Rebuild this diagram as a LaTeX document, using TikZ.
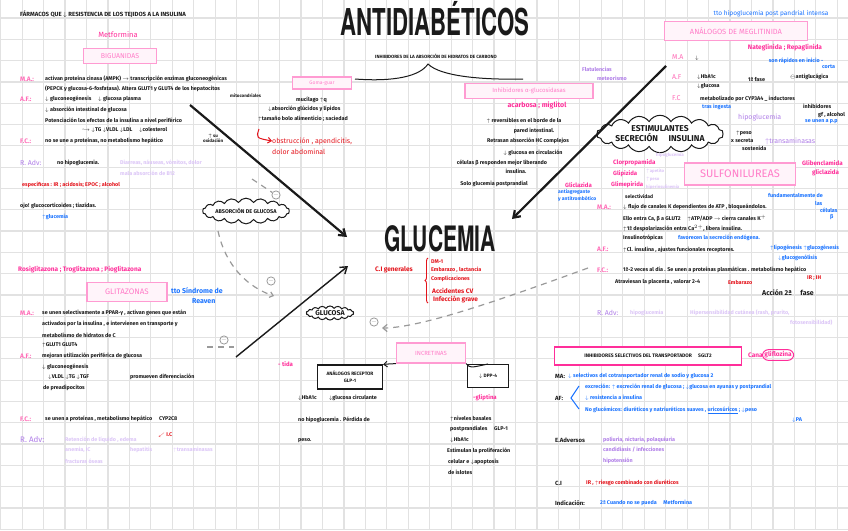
\documentclass[tikz,border=0pt]{standalone}
\usepackage{fontspec}
\setmainfont{Fira Sans}
\newfontfamily\condfont[FakeStretch=0.6]{TeX Gyre Heros}
\usetikzlibrary{arrows.meta, positioning, calc, shapes.symbols, decorations.pathreplacing}
\definecolor{ink}{HTML}{1A1A1A}
\definecolor{hotpink}{HTML}{FF2E9A}
\definecolor{boxpink}{HTML}{FF9BD2}
\definecolor{pinkfill}{HTML}{FFF4FA}
\definecolor{boxtext}{HTML}{FF7CC8}
\definecolor{skyblue}{HTML}{1A73FF}
\definecolor{redd}{HTML}{E4141C}
\definecolor{lilac}{HTML}{B07EE8}
\definecolor{palelilac}{HTML}{DCC6F7}
\definecolor{dashgray}{HTML}{9A9A9A}
\definecolor{gridgray}{HTML}{E2E2E2}
\newcommand{\upar}{$\uparrow$}
\newcommand{\dnar}{$\downarrow$}
\newcommand{\rarr}{$\rightarrow$}

\begin{document}
\begin{tikzpicture}[x=1pt, y=-1pt,
  >={Straight Barb[length=2.2mm, width=3mm]},
  txt/.style={anchor=west, inner sep=0pt, font=\fontsize{5.4}{6.5}\selectfont\bfseries, text=ink},
  pk/.style={txt, text=hotpink},
  bl/.style={txt, text=skyblue},
  rd/.style={txt, text=redd},
  pu/.style={txt, text=lilac},
  pl/.style={txt, text=palelilac},
  lbl/.style={txt, text=hotpink!70, font=\fontsize{6.5}{7}\selectfont\bfseries},
  pbox/.style={draw=boxpink, line width=1.2pt, fill=pinkfill, text=boxtext,
    inner sep=1pt, font=\fontsize{7}{8}\selectfont},
  kbox/.style={draw=ink, line width=1.1pt, fill=white, text=ink, align=center,
    inner sep=1pt, font=\fontsize{4.8}{7}\selectfont\bfseries},
  blob/.style={cloud, draw=ink, line width=1pt, fill=white, cloud puffs=18,
    cloud puff arc=120, aspect=5, inner sep=0pt, text=ink},
  minusmark/.style={circle, draw=dashgray, line width=0.8pt, inner sep=0.3pt,
    font=\fontsize{6}{6}\selectfont, text=dashgray},
  bigarr/.style={->, line width=2.2pt, ink},
  thinarr/.style={->, line width=1.4pt, ink},
  dasharr/.style={->, dash pattern=on 6pt off 5pt, line width=1.2pt, dashgray},
  redarr/.style={->, >={Straight Barb[length=1.2mm, width=2mm]}, line width=1pt, redd},
]

% Background and grid
\useasboundingbox (0,0) rectangle (848,530);
\fill[white] (0,0) rectangle (848,530);
\foreach \i in {0,...,39}
  \draw[gridgray, line width=1.2pt] ({0.7+21.45*\i},0) -- ({0.7+21.45*\i},530);
\foreach \j in {0,...,25}
  \draw[gridgray, line width=1.2pt] (0,{-3.3+21.3*\j}) -- (848,{-3.3+21.3*\j});

% Titles
\node[font=\condfont\bfseries\fontsize{37}{37}\selectfont, text=ink, inner sep=0pt] (title) at (435,19) {ANTIDIABÉTICOS};
\node[font=\condfont\bfseries\fontsize{35}{35}\selectfont, text=ink, inner sep=0pt] (gluc) at (440,239) {GLUCEMIA};

% Biguanidas
\node[txt, font=\fontsize{6}{7}\selectfont\bfseries] (hdr) at (20,14) {FÁRMACOS QUE \dnar{} RESISTENCIA DE LOS TEJIDOS A LA INSULINA};
\node[pk, anchor=center, font=\fontsize{7.5}{8}\selectfont] (metf) at (118,35) {Metformina};
\node[pbox, minimum width=73pt, minimum height=15pt] (bigu) at (120,56) {BIGUANIDAS};
\node[lbl] (bgMA) at (20,79) {M.A.:};
\node[txt] (bg1) at (45,79) {activan proteína cinasa (AMPK) \rarr{} transcripción enzimas gluconeogénicas};
\node[txt] (bg2) at (45,89) {(PEPCK y glucosa-6-fosfatasa). Altera GLUT1 y GLUT4 de los hepatocitos};
\node[txt, font=\fontsize{4.5}{5}\selectfont\bfseries] (bg2b) at (230,96) {mitocondriales};
\node[lbl] (bgAF) at (20,99) {A.F.:};
\node[txt] (bg3) at (45,99) {\dnar{} gluconeogénesis \quad \dnar{} glucosa plasma};
\node[txt] (bg4) at (45,110) {\dnar{} absorción intestinal de glucosa};
\node[txt] (bg5) at (45,121) {Potenciación los efectos de la insulina a nivel periférico};
\node[txt] (bg6) at (82,130) {$\hookrightarrow$ \dnar TG \dnar VLDL \dnar LDL \quad \dnar colesterol};
\node[txt, font=\fontsize{4.5}{5}\selectfont\bfseries, align=center] (bg6b) at (203,138) {\upar{} su\\oxidación};
\node[lbl] (bgFC) at (20,141) {F.C.:};
\node[txt] (bg7) at (45,141) {no se une a proteínas, no metabolismo hepático};
\node[pu, font=\fontsize{7}{8}\selectfont] (bgRA) at (20,163) {R. Adv:};
\node[txt] (bg8) at (57,163) {no hipoglucemia.};
\node[pl] (bg9) at (120,163) {Diarreas, náuseas, vómitos, dolor};
\node[pl] (bg10) at (120,173) {mala absorción de B12};
\node[rd] (bgCI) at (22,185) {específicas : IR ; acidosis; EPOC ; alcohol};
\node[txt] (bgOjo) at (20,206) {ojo! glucocorticoides ; tiazidas.};
\node[bl] (bgGl) at (42,217) {\upar glucemia};

% Goma guar
\node[pbox, font=\fontsize{5}{6}\selectfont, minimum width=59pt, minimum height=12pt] (goma) at (322,83) {Goma-guar};
\node[txt] (gm1) at (296,100) {mucílago \upar q};
\node[txt] (gm2) at (268,109) {\dnar absorción glúcidos y lípidos};
\node[txt] (gm3) at (258,119) {\upar tamaño bolo alimenticio ; saciedad};
\node[rd, font=\fontsize{7}{8}\selectfont] (gm4) at (272,141) {obstrucción , apendicitis,};
\node[rd, font=\fontsize{7}{8}\selectfont] (gm5) at (272,152) {dolor abdominal};
\coordinate (gmR) at (259,129);
\draw[redarr] (gmR) .. controls (256,138) .. (gm4.west);

% Inhibidores absorcion HC
\node[txt, anchor=center, font=\fontsize{4.6}{5}\selectfont\bfseries] (inhHC) at (436,56) {INHIBIDORES DE LA ABSORCIÓN DE HIDRATOS DE CARBONO};
\coordinate (brL) at (355,79);
\coordinate (brM) at (428,64);
\coordinate (brR) at (523,79);
\draw[ink, line width=1pt] (brL) .. controls (395,82) and (420,76) .. (brM) .. controls (440,76) and (480,80) .. (brR);

% Alfa glucosidasas
\node[pbox, font=\fontsize{6}{7}\selectfont, minimum width=128pt, minimum height=15pt] (alfa) at (529,91) {Inhibidores α-glucosidasas};
\node[pk, anchor=center, font=\fontsize{7}{8}\selectfont\bfseries] (acar) at (537,105) {acarbosa ; miglitol};
\node[txt, anchor=center] (al1) at (524,121) {\upar{} reversibles en el borde de la};
\node[txt, anchor=center] (al2) at (534,131) {pared intestinal.};
\node[txt, anchor=center] (al3) at (528,141) {Retrasan absorción HC complejos};
\node[txt, anchor=center] (al4) at (533,153) {\dnar{} glucosa en circulación};
\node[txt, anchor=center] (al5) at (502,163) {células β responden mejor liberando};
\node[txt, anchor=center] (al6) at (516,171) {insulina.};
\node[txt, anchor=center] (al7) at (494,184) {Solo glucemia postprandial};
\node[pu, anchor=center] (al8) at (597,69) {Flatulencias};
\node[pu, anchor=center] (al9) at (612,78) {meteorismo};

% Meglitinidas
\node[bl, anchor=center, font=\fontsize{6.5}{7}\selectfont] (megT) at (771,14) {tto hipoglucemia post pandrial intensa};
\node[pbox, font=\fontsize{7.5}{8}\selectfont, minimum width=143pt, minimum height=19pt] (megl) at (736,31) {ANÁLOGOS DE MEGLITINIDA};
\node[pk, anchor=center, font=\fontsize{6.5}{7}\selectfont\bfseries] (mg1) at (785,48) {Nateglinida ; Repaglinida};
\node[bl, anchor=center] (mg2) at (796,61) {son rápidos en inicio -};
\node[bl] (mg2b) at (822,67) {corta};
\node[lbl, font=\fontsize{7}{8}\selectfont] (mgMA) at (672,57) {M.A};
\node[txt] (mg3) at (695,58) {\dnar};
\node[lbl, font=\fontsize{7}{8}\selectfont] (mgAF) at (672,77) {A.F};
\node[txt] (mg4) at (697,77) {\dnar HbA1c};
\node[txt] (mg5) at (697,86) {\dnar glucosa};
\node[txt] (mg6) at (748,79) {1ª fase};
\node[txt] (mg7) at (790,77) {$\ominus$antiglucágica};
\node[lbl, font=\fontsize{7}{8}\selectfont] (mgFC) at (672,98) {F.C};
\node[txt] (mg8) at (700,99) {metabolizado por CYP3A4 \_ inductores};
\node[bl] (mg9) at (702,107) {tras ingesta};
\node[txt] (mg10) at (803,106) {inhibidores};
\node[txt] (mg11) at (818,115) {gf , alcohol};
\node[bl] (mg12) at (805,122) {se unen a p.p};
\node[pu, font=\fontsize{7}{8}\selectfont] (mg13) at (738,118) {hipoglucemia};
\node[txt] (mg14) at (736,133) {\upar peso};
\node[txt] (mg15) at (731,141) {x secreta};
\node[txt] (mg16) at (742,148) {sostenida};
\node[pu, font=\fontsize{7}{8}\selectfont] (mg17) at (765,141) {\upar transaminasas};

% Estimulantes secrecion insulina
\node[blob, font=\fontsize{8.5}{10}\selectfont\bfseries, align=center] (estim) at (660,134) {ESTIMULANTES\\SECRECIÓN \quad INSULINA};

% Sulfonilureas
\node[pbox, font=\fontsize{11}{12}\selectfont, minimum width=111pt, minimum height=22pt] (sulf) at (740,174) {SULFONILUREAS};
\node[pk, font=\fontsize{6.2}{7}\selectfont\bfseries] (su1) at (613,163) {Clorpropamida};
\node[pk, font=\fontsize{6}{7}\selectfont\bfseries] (su2) at (613,174) {Glipizida};
\node[pk, font=\fontsize{6}{7}\selectfont\bfseries] (su3) at (565,185) {Gliclazida};
\node[pk, font=\fontsize{6}{7}\selectfont\bfseries] (su4) at (611,185) {Glimepirida};
\node[pk, font=\fontsize{6.2}{7}\selectfont\bfseries] (su5) at (802,163) {Glibenclamida};
\node[pk, font=\fontsize{6.2}{7}\selectfont\bfseries] (su6) at (812,173) {gliclazida};
\node[pl, font=\fontsize{4.5}{5}\selectfont\bfseries] (su7) at (656,155) {hipoglucemia};
\node[pl, font=\fontsize{4.3}{5}\selectfont\bfseries] (su8) at (646,171) {\upar apetito};
\node[pl, font=\fontsize{4.3}{5}\selectfont\bfseries] (su9) at (646,179) {\upar peso};
\node[pl, font=\fontsize{4.3}{5}\selectfont\bfseries] (su10) at (646,187) {hiperinsulinemia};
\node[bl, font=\fontsize{5}{6}\selectfont\bfseries] (su11) at (558,192) {antiagregante};
\node[bl, font=\fontsize{5}{6}\selectfont\bfseries] (su12) at (558,199) {y antitrombótico};
\node[lbl] (suMA) at (597,207) {M.A.:};
\node[txt, font=\fontsize{5}{6}\selectfont\bfseries] (su13) at (625,197) {selectividad};
\node[txt] (su14) at (623,207) {\dnar{} flujo de canales K dependientes de ATP , bloqueándolos.};
\node[txt] (su15) at (623,218) {Ello entra Ca, β a GLUT2 \quad \upar ATP/ADP \rarr{} cierra canales K$^{+}$};
\node[txt] (su16) at (623,228) {\upar 1ª despolarización entra Ca$^{2+}$, libera insulina.};
\node[bl] (su17) at (768,195) {fundamentalmente de};
\node[bl] (su18) at (815,203) {las};
\node[bl] (su19) at (820,210) {células};
\node[bl] (su20) at (830,217) {β};
\node[txt] (su21) at (623,238) {Insulinotrópicas};
\node[bl] (su22) at (678,238) {favorecen la secreción endógena.};
\node[lbl] (suAF) at (597,249) {A.F.:};
\node[txt] (su23) at (623,250) {\upar Cl. insulina , ajustes funcionales receptores.};
\node[bl] (su24) at (770,248) {\upar lipogénesis \upar glucogénesis};
\node[bl] (su25) at (778,258) {\dnar glucogenólisis};
\node[lbl] (suFC) at (597,270) {F.C.:};
\node[txt] (su26) at (623,270) {1ª-2 veces al día . Se unen a proteínas plasmáticas . metabolismo hepático};
\node[txt] (su27) at (615,282) {Atraviesan la placenta , valorar 2-4};
\node[rd] (su28) at (728,282) {Embarazo};
\node[rd] (su29) at (807,278) {IR ; IH};
\node[txt, font=\fontsize{7}{8}\selectfont\bfseries] (su30) at (762,293) {Acción 2ª \quad fase};
\node[pu, font=\fontsize{7}{8}\selectfont] (suRA) at (597,313) {R. Adv:};
\node[pl] (su31) at (630,313) {hipoglucemia};
\node[pl] (su32) at (690,313) {Hipersensibilidad cutánea (rash, prurito,};
\node[pl] (su33) at (790,323) {fotosensibilidad)};

% Big arrows towards glucemia
\coordinate (arLs) at (190,105);
\coordinate (arLe) at (347,237);
\coordinate (arRs) at (666,66);
\coordinate (arRe) at (512,219);
\coordinate (arBs) at (236,357);
\coordinate (arBe) at (348,266);
\draw[bigarr] (arLs) -- (arLe);
\draw[bigarr] (arRs) -- (arRe);
\draw[thinarr] (arBs) -- (arBe);

% Absorcion de glucosa, dashed feedback
\node[blob, font=\fontsize{5.5}{6}\selectfont\bfseries] (absG) at (246,211) {ABSORCIÓN DE GLUCOSA};
\node[blob, font=\fontsize{7}{8}\selectfont\bfseries, inner xsep=2pt] (glcs) at (330,313) {GLUCOSA};
\node[minusmark] (mn1) at (276,195) {$-$};
\node[minusmark] (mn2) at (271,281) {$-$};
\node[minusmark] (mn3) at (224,340) {$-$};
\node[minusmark] (mn4) at (374,322) {$-$};
\coordinate (dA) at (252,179);
\draw[dashgray, dash pattern=on 6pt off 5pt, line width=1.2pt] (dA) -- (mn1);
\coordinate (dB) at (218,231);
\coordinate (dBe) at (274,296);
\draw[dasharr, >={Straight Barb[length=1.2mm, width=2mm]}] (dB) .. controls (226,268) and (250,288) .. (dBe);
\coordinate (dC) at (207,347);
\draw[dashgray, dash pattern=on 6pt off 5pt, line width=1.2pt] (dC) -- ($(mn3)+(10,7)$);
\coordinate (dR) at (588,268);
\coordinate (dL) at (382,328);
\draw[dasharr, >={Straight Barb[length=1.5mm, width=2.5mm]}] (dR) .. controls (500,300) and (420,328) .. (dL);

% Contraindicaciones generales
\node[rd, font=\fontsize{6.5}{7}\selectfont\bfseries] (ciG) at (375,270) {C.I generales};
\draw[redd, line width=0.9pt, decorate, decoration={brace, amplitude=3pt}] (428,303) -- (428,258);
\node[rd] (ci1) at (431,262) {DM-1};
\node[rd] (ci2) at (431,270) {Embarazo , lactancia};
\node[rd] (ci3) at (431,279) {Complicaciones};
\node[rd, font=\fontsize{6.5}{7}\selectfont\bfseries] (ci4) at (432,291) {Accidentes CV};
\node[rd, font=\fontsize{6.5}{7}\selectfont\bfseries] (ci5) at (433,300) {Infección grave};

% Glitazonas
\node[pk, font=\fontsize{6.5}{7}\selectfont\bfseries] (gz0) at (18,270) {Rosiglitazona ; Troglitazona ; Pioglitazona};
\node[pbox, font=\fontsize{8}{9}\selectfont, minimum width=80pt, minimum height=19pt] (glit) at (127,292) {GLITAZONAS};
\node[bl, font=\fontsize{7}{8}\selectfont\bfseries] (gz1) at (171,291) {tto Síndrome de};
\node[bl, font=\fontsize{7}{8}\selectfont\bfseries] (gz2) at (192,301) {Reaven};
\node[lbl] (gzMA) at (20,313) {M.A.:};
\node[txt] (gz3) at (42,313) {se unen selectivamente a PPAR-γ , activan genes que están};
\node[txt] (gz4) at (42,324) {activados por la insulina , e intervienen en transporte y};
\node[txt] (gz5) at (42,335) {metabolismo de hidratos de C};
\node[txt] (gz6) at (42,345) {\upar GLUT1 GLUT4};
\node[lbl] (gzAF) at (20,356) {A.F.:};
\node[txt] (gz7) at (42,356) {mejoran utilización periférica de glucosa};
\node[txt] (gz8) at (42,367) {\dnar{} gluconeogénesis};
\node[txt] (gz9) at (48,377) {\dnar VLDL \dnar TG \dnar TGF};
\node[txt] (gz10) at (130,377) {promueven diferenciación};
\node[txt] (gz11) at (43,388) {de preadipocitos};
\node[lbl] (gzFC) at (20,419) {F.C.:};
\node[txt] (gz12) at (45,419) {se unen a proteínas , metabolismo hepático \quad CYP2C8};
\node[pu, font=\fontsize{8}{9}\selectfont] (gzRA) at (20,440) {R. Adv:};
\node[pl] (gz13) at (65,440) {Retención de líquido , edema};
\node[rd] (gz14) at (158,435) {$\swarrow$ I.C};
\node[pl] (gz15) at (65,450) {anemia, IC};
\node[pl] (gz16) at (130,450) {hepatitis};
\node[pl] (gz17) at (173,450) {\upar transaminasas};
\node[pl] (gz18) at (65,461) {fracturas óseas};

% Incretinas
\node[pbox, font=\fontsize{6}{7}\selectfont, minimum width=69pt, minimum height=20pt] (incr) at (431,353) {INCRETINAS};
\node[pk, font=\fontsize{6}{7}\selectfont\bfseries] (in0) at (278,364) {- tida};
\node[kbox, minimum width=65pt, minimum height=24pt] (glp) at (350,377) {ANÁLOGOS RECEPTOR\\GLP-1};
\node[kbox, minimum width=41pt, minimum height=23pt] (dpp) at (488,376) {\dnar{} DPP-4};
\draw[->, >={Straight Barb[length=1.2mm, width=2mm]}, line width=1pt, ink] (incr.south west) .. controls (388,364) .. (glp.north east);
\draw[line width=1pt, ink] (incr.south east) .. controls (470,368) .. (dpp.north);
\node[txt] (in1) at (298,398) {\dnar HbA1c \qquad \dnar glucosa circulante};
\node[txt] (in2) at (298,420) {no hipoglucemia . Pérdida de};
\node[txt] (in3) at (298,441) {peso.};
\node[pk, font=\fontsize{6}{7}\selectfont\bfseries] (in4) at (473,398) {-gliptina};
\node[txt] (in5) at (450,419) {\upar niveles basales};
\node[txt] (in6) at (450,429) {postprandiales \quad GLP-1};
\node[txt] (in7) at (450,440) {\dnar HbA1c};
\node[txt] (in8) at (447,451) {Estimulan la proliferación};
\node[txt] (in9) at (448,462) {celular e \dnar apoptosis};
\node[txt] (in10) at (448,472) {de islotes};

% Inhibidores SGLT2
\node[draw=hotpink, line width=1.3pt, fill=white, inner sep=1pt, minimum width=187pt, minimum height=18pt,
  font=\fontsize{5}{6}\selectfont\bfseries, text=ink] (sglt) at (648,356) {INHIBIDORES SELECTIVOS DEL TRANSPORTADOR \quad SGLT2};
\node[pk, font=\fontsize{6.5}{7}\selectfont\bfseries] (canaA) at (748,355) {Cana};
\node[pk, font=\fontsize{6.5}{7}\selectfont\bfseries, draw=hotpink, line width=1pt, rounded corners=6pt,
  inner sep=2pt, right=-1pt of canaA] (canaB) {gliflozina};
\node[txt, font=\fontsize{6}{7}\selectfont\bfseries] (sgMA) at (555,376) {MA:};
\node[bl] (sg1) at (568,376) {\dnar{} selectivos del cotransportador renal de sodio y glucosa 2};
\node[txt, font=\fontsize{6}{7}\selectfont\bfseries] (sgAF) at (555,398) {AF:};
\draw[skyblue, line width=1pt] (579,386) -- (571,398) -- (579,409);
\node[bl] (sg2) at (585,387) {excreción: \upar{} excreción renal de glucosa ; \dnar glucosa en ayunas y postprandial};
\node[bl] (sg3) at (585,398) {\dnar{} resistencia a insulina};
\node[bl] (sg4) at (585,410) {No glucémicos: diuréticos y natriuréticos suaves , \underline{uricosúricos} ; \dnar peso};
\node[bl] (sg5) at (792,420) {\dnar PA};
\node[txt, font=\fontsize{6}{7}\selectfont\bfseries] (sgEA) at (555,440) {E.Adversos};
\node[pu] (sg6) at (603,440) {poliuria, nicturia, polaquiuria};
\node[pu] (sg7) at (603,450) {candidiasis / infecciones};
\node[pu] (sg8) at (603,461) {hipotensión};
\node[txt, font=\fontsize{6}{7}\selectfont\bfseries] (sgCI) at (555,483) {C.I};
\node[rd] (sg9) at (586,483) {IR , \upar riesgo combinado con diuréticos};
\node[txt, font=\fontsize{6}{7}\selectfont\bfseries] (sgIN) at (555,503) {Indicación:};
\node[bl] (sg10) at (600,503) {2ª Cuando no se pueda \quad Metformina};

\end{tikzpicture}
\end{document}
